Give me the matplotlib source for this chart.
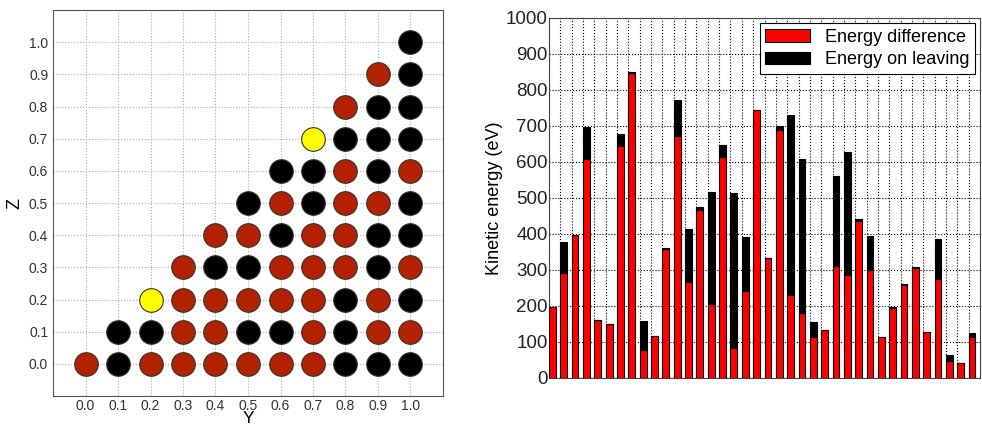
import matplotlib
matplotlib.use('Agg')
import matplotlib.pyplot as plt
import numpy as np

plt.rcParams['font.family'] = ['Liberation Sans', 'DejaVu Sans']

# Left panel: grid of points, colour code per row (Z), starting at Y = Z
# r = red, k = black, y = yellow
rows = {
    0.0: 'rkrrrrrrkkk',
    0.1: 'kkrrkkrkrr',
    0.2: 'yrrrrrkrk',
    0.3: 'rkkrrrkr',
    0.4: 'rrkrrkk',
    0.5: 'krkrrk',
    0.6: 'kkrkr',
    0.7: 'ykkk',
    0.8: 'rkk',
    0.9: 'rk',
    1.0: 'k',
}
color_map = {'r': '#b22200', 'k': 'black', 'y': '#ffff00'}

# Right panel: stacked bars
energy_diff = [198, 292, 396, 608, 160, 151, 645, 847, 78, 117, 358, 671, 267,
               467, 205, 615, 82, 242, 745, 333, 689, 230, 180, 113, 132, 312,
               285, 437, 300, 113, 195, 257, 305, 127, 276, 46, 42, 114]
energy_total = [198, 379, 398, 697, 162, 151, 678, 849, 158, 117, 361, 772, 413,
                474, 518, 648, 514, 393, 745, 333, 700, 731, 608, 156, 134, 560,
                628, 442, 395, 115, 197, 260, 307, 128, 387, 63, 43, 125]
energy_leave = [t - d for t, d in zip(energy_total, energy_diff)]

fig = plt.figure(figsize=(9.82, 4.29), dpi=100)

ax1 = fig.add_axes([53 / 982, 33 / 429, 390 / 982, 386 / 429])
for z, codes in rows.items():
    for i, c in enumerate(codes):
        y = round(z + 0.1 * i, 1)
        ax1.plot(y, z, 'o', markersize=17, color=color_map[c],
                 markeredgecolor='#333333', markeredgewidth=0.8, zorder=3)
ax1.set_xlim(-0.1, 1.1)
ax1.set_ylim(-0.1, 1.1)
ticks = np.round(np.arange(0, 1.01, 0.1), 1)
ax1.set_xticks(ticks)
ax1.set_yticks(ticks)
ax1.set_xticklabels(['%.1f' % t for t in ticks], fontsize=10, color='#333333')
ax1.set_yticklabels(['%.1f' % t for t in ticks], fontsize=10, color='#333333')
ax1.set_xlabel('Y', fontsize=12.5, labelpad=-1)
ax1.set_ylabel('Z', fontsize=13)
ax1.grid(True, linestyle=':', color='#aaaaaa', linewidth=0.8)
ax1.tick_params(direction='in', length=0)
ax1.tick_params(axis='x', pad=2)
for s in ax1.spines.values():
    s.set_color('#555555')

ax2 = fig.add_axes([549 / 982, 51 / 429, 431 / 982, 360 / 429])
x = np.arange(len(energy_diff))
ax2.bar(x, energy_diff, width=0.6, align='edge', color='#ff0000',
        edgecolor='black', linewidth=0.8, label='Energy difference', zorder=3)
ax2.bar(x, energy_leave, width=0.6, align='edge', bottom=energy_diff,
        color='black', edgecolor='black', linewidth=0.8,
        label='Energy on leaving', zorder=3)
ax2.set_xlim(0, len(energy_diff))
ax2.set_ylim(0, 1000)
ax2.set_xticks(x)
ax2.set_xticklabels([])
ax2.set_yticks(range(0, 1001, 100))
ax2.tick_params(axis='y', labelsize=13.5, direction='in', length=0, pad=1,
                labelcolor='#222222')
ax2.tick_params(axis='x', length=0)
ax2.set_ylabel('Kinetic energy (eV)', fontsize=13, labelpad=2)
ax2.grid(True, linestyle=':', color='black', linewidth=0.8)
for s in ax2.spines.values():
    s.set_color('#444444')
leg = ax2.legend(loc='upper right', fontsize=13, fancybox=False,
                 framealpha=1, edgecolor='black', handlelength=2.5,
                 borderaxespad=0.3, labelspacing=0.3, borderpad=0.3)
leg.get_frame().set_linewidth(0.8)

fig.savefig('out.png', dpi=100)
